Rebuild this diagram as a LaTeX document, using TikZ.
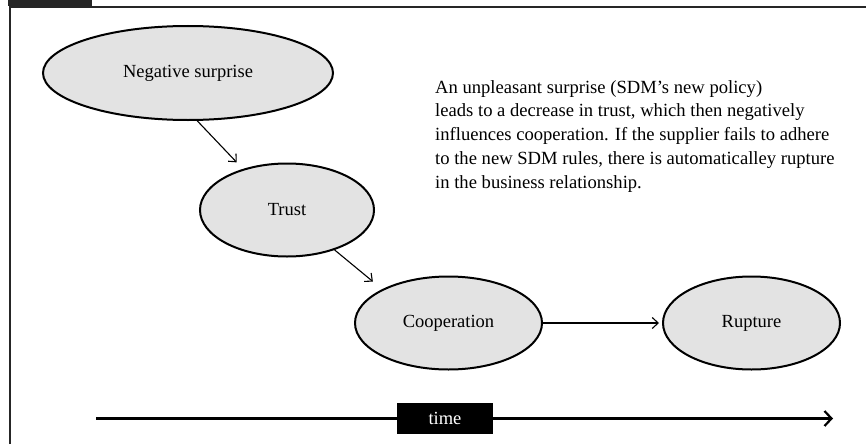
\documentclass[tikz,border=0pt]{standalone}
\usepackage{fontspec}
\setmainfont{Liberation Serif}
\usetikzlibrary{shapes.geometric,arrows.meta}
\begin{document}
\begin{tikzpicture}[x=1pt,y=-1pt,
  stage/.style={ellipse,draw=black,line width=2pt,fill=gray!22,inner sep=0pt,
    font=\fontsize{18.5}{22}\selectfont},
  link/.style={line width=1.1pt,-{Straight Barb[length=6pt,width=11pt,line width=1.1pt]}},
  framestyle/.style={draw=black!85,line width=2.5pt}]
\useasboundingbox (0,0) rectangle (866,444);
% frame
\fill[black!85] (8,0) rectangle (92,6);
\draw[framestyle] (10,444) -- (10,7.2) -- (866,7.2);
% nodes
\node[stage,minimum width=290pt,minimum height=94pt] (neg) at (188,73) {Negative surprise};
\node[stage,minimum width=174pt,minimum height=93pt] (trust) at (287,210) {Trust};
\node[stage,minimum width=187pt,minimum height=93pt] (coop) at (448.5,323) {Cooperation};
\node[stage,minimum width=177pt,minimum height=93pt] (rup) at (751.5,323) {Rupture};
% connectors
\draw[link,shorten >=9pt] (neg.-79) -- (trust.137);
\draw[link,shorten >=12pt] (trust.-40) -- (coop.153);
\draw[link,shorten >=3pt] (coop.east) -- (rup.west);
% description
\node[anchor=north west,inner sep=0pt,align=left,font=\fontsize{18.6}{23.8}\selectfont] (desc) at (435,80)
  {An unpleasant surprise (SDM’s new policy)\\
   leads to a decrease in trust, which then negatively\\
   influences cooperation. If the supplier fails to adhere\\
   to the new SDM rules, there is automaticalley rupture\\
   in the business relationship.};
% time axis
\coordinate (tstart) at (96,418.5);
\coordinate (tend) at (833,418.5);
\draw[line width=2.6pt,-{Straight Barb[length=7pt,width=15pt,line width=2.2pt]}] (tstart) -- (tend);
\node[fill=black,text=white,minimum width=96pt,minimum height=31pt,inner sep=0pt,
  font=\fontsize{18.5}{22}\selectfont] (time) at (445,418.5) {time};
\end{tikzpicture}
\end{document}
